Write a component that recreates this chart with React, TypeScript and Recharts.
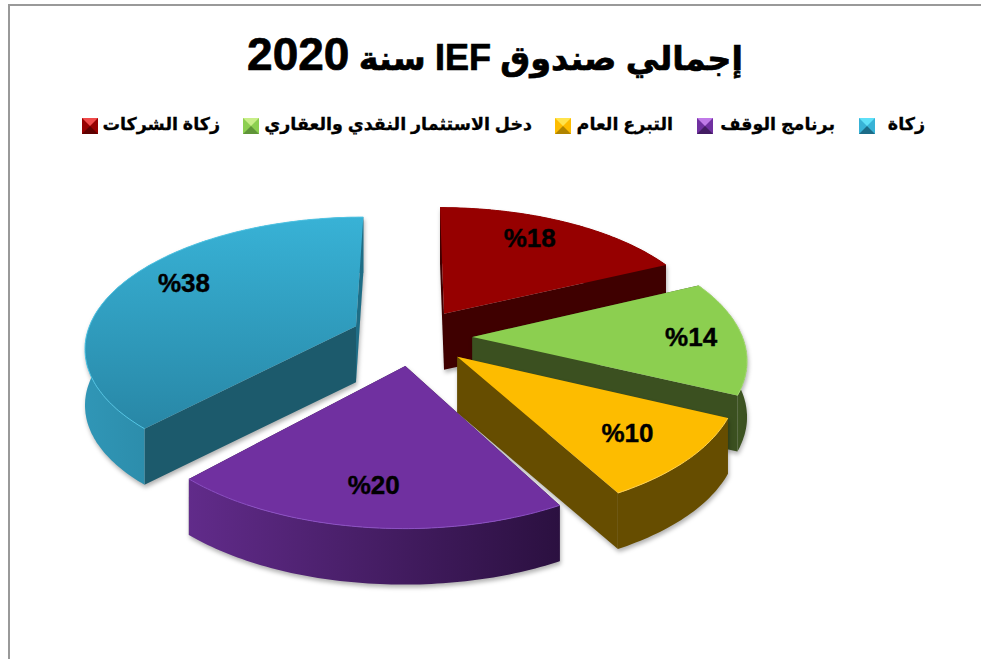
import { PieChart, Pie, Legend } from "recharts";

// ترتيب الرسم: من الخلف إلى الأمام، وهو أيضا ترتيب المفتاح من اليسار إلى اليمين
const names = ["زكاة الشركات", "دخل الاستثمار النقدي والعقاري", "التبرع العام", "برنامج الوقف", "زكاة"];
const values = [18, 14, 10, 20, 38];
const explosion = [0.22, 0.22, 0.22, 0.22, 0.23];

const topFrom = ["#960000", "#8ccf50", "#fdbc00", "#7030a0", "#38b2d6"];
const topTo = ["#960000", "#8ccf50", "#fdbc00", "#7030a0", "#2887a6"];
const wallFrom = ["#3f0000", "#4d6b2c", "#664d00", "#612b8a", "#3096b6"];
const wallTo = ["#3f0000", "#3b5020", "#664d00", "#2b1040", "#1e6d86"];
const cutFill = ["#3f0000", "#3b5020", "#664d00", "#2b1040", "#1c5a6c"];
const rimLine = ["#960000", "#a4dc70", "#ffd050", "#8c50c4", "#4fc4e4"];
const iconLight = ["#f04a4a", "#c8ee88", "#ffe34d", "#c07ae8", "#5fe0f8"];
const iconDark = ["#5e0000", "#5f9438", "#b08400", "#431c63", "#1c6c88"];
const legendLeft = [82, 243, 555, 697, 859];
const legendRight = [220, 532, 673, 835, 925];
const labelRadius = [0.78, 0.81, 0.76, 0.77, 0.78];
const labelTurn = [4, 0, 0, 0, -6];

const WIDTH = 981;
const HEIGHT = 659;
const TILT = 0.476;
const PERSPECTIVE = 0.15;
const DEPTH = 56;
const FONT = '"Liberation Sans", Arial, "DejaVu Sans", sans-serif';

const data = names.map((name, i) => ({ name, value: values[i], fill: topFrom[i], idx: i }));
const rad = (a: number) => (a * Math.PI) / 180;

// يحول نقطة على القرص إلى نقطة على الشاشة بمنظور بسيط
function project(cx: number, cy: number, R: number, mid: number, e: number, angle: number, r: number) {
  const u = e * Math.cos(rad(mid)) + r * Math.cos(rad(angle));
  const v = e * Math.sin(rad(mid)) + r * Math.sin(rad(angle));
  const w = 1 + PERSPECTIVE * v;
  return { x: cx + (R * u) / w, y: cy - (R * TILT * v) / w };
}

const toLine = (pts: { x: number; y: number }[]) =>
  "M" + pts.map((p) => `${p.x.toFixed(1)},${p.y.toFixed(1)}`).join("L");
const toPath = (pts: { x: number; y: number }[]) => toLine(pts) + "Z";
const drop = (p: { x: number; y: number }) => ({ x: p.x, y: p.y + DEPTH });

function Slice3D(props: any) {
  const { cx, cy, outerRadius, startAngle, endAngle, payload } = props;
  const mid = (startAngle + endAngle) / 2;
  const i = payload.idx;
  const e = explosion[i];
  const steps = Math.max(2, Math.ceil(Math.abs(endAngle - startAngle)));
  const rim = [];
  for (let s = 0; s <= steps; s++) {
    rim.push(project(cx, cy, outerRadius, mid, e, startAngle + ((endAngle - startAngle) * s) / steps, 1));
  }
  const apex = project(cx, cy, outerRadius, mid, e, 0, 0);
  const first = rim[0];
  const last = rim[rim.length - 1];
  return (
    <g style={{ filter: "drop-shadow(1px 3px 2px rgba(0,0,0,0.3))" }}>
      <path d={toPath([apex, first, drop(first), drop(apex)])} fill={cutFill[i]} />
      <path d={toPath([apex, last, drop(last), drop(apex)])} fill={wallTo[i]} />
      <path d={toPath([...rim, ...rim.slice().reverse().map(drop)])} fill={`url(#wall${i})`} />
      <path d={toPath([apex, ...rim])} fill={`url(#top${i})`} />
      <path d={toLine(rim)} fill="none" stroke={rimLine[i]} strokeWidth={1} />
    </g>
  );
}

function PercentLabel(props: any) {
  const { cx, cy, outerRadius, midAngle, value, payload } = props;
  const i = payload.idx;
  const p = project(cx, cy, outerRadius, midAngle, explosion[i], midAngle + labelTurn[i], labelRadius[i]);
  return (
    <text x={p.x} y={p.y} textAnchor="middle" dominantBaseline="central" direction="ltr"
      fontFamily={FONT} fontSize={26} fontWeight={700} fill="#000" stroke="#000" strokeWidth={0.4}>
      {`%${value}`}
    </text>
  );
}

function LegendIcon({ i }: { i: number }) {
  return (
    <svg width={16} height={16} style={{ display: "block" }}>
      <rect width={16} height={16} fill={topFrom[i]} />
      <polygon points="0,0 16,0 8,8" fill={iconLight[i]} />
      <polygon points="0,16 16,16 8,8" fill={iconDark[i]} />
    </svg>
  );
}

function ChartLegend() {
  return (
    <div style={{ position: "relative", width: WIDTH, height: 30 }}>
      {names.map((name, i) => (
        <div key={name}>
          <div style={{ position: "absolute", left: legendLeft[i], top: 7 }}>
            <LegendIcon i={i} />
          </div>
          <div
            style={{
              position: "absolute",
              right: WIDTH - legendRight[i],
              top: 0,
              direction: "rtl",
              whiteSpace: "nowrap",
              fontFamily: FONT,
              fontWeight: 700,
              fontSize: 17.5,
              lineHeight: "26px",
              color: "#000",
              WebkitTextStroke: "0.3px #000",
            }}
          >
            {name}
          </div>
        </div>
      ))}
    </div>
  );
}

export default function App() {
  return (
    <div style={{ position: "absolute", left: 0, top: 0, width: WIDTH, height: HEIGHT, overflow: "hidden", background: "#fff" }}>
      {/* إطار الرسم */}
      <div
        style={{
          position: "absolute",
          left: 8,
          top: 4,
          width: WIDTH,
          height: HEIGHT,
          borderTop: "2px solid #999",
          borderLeft: "2px solid #999",
        }}
      />
      <div
        style={{
          position: "absolute",
          left: 0,
          width: 990,
          top: 26,
          textAlign: "center",
          direction: "rtl",
          whiteSpace: "nowrap",
          fontFamily: FONT,
          fontWeight: 700,
          fontSize: 33.5,
          lineHeight: "56px",
          color: "#000",
          WebkitTextStroke: "0.7px #000",
        }}
      >
        إجمالي صندوق <span style={{ fontSize: 36 }}>IEF</span> سنة <span style={{ fontSize: 46 }}>2020</span>
      </div>
      <PieChart width={WIDTH} height={HEIGHT} style={{ position: "absolute", left: 0, top: 0 }}>
        <defs>
          {names.map((_, i) => (
            <linearGradient key={`top${i}`} id={`top${i}`} x1="0" y1="0" x2="0" y2="1">
              <stop offset="0%" stopColor={topFrom[i]} />
              <stop offset="100%" stopColor={topTo[i]} />
            </linearGradient>
          ))}
          {names.map((_, i) => (
            <linearGradient key={`wall${i}`} id={`wall${i}`} x1="0" y1="0" x2="1" y2="0">
              <stop offset="0%" stopColor={wallFrom[i]} />
              <stop offset="100%" stopColor={wallTo[i]} />
            </linearGradient>
          ))}
        </defs>
        <Legend
          content={<ChartLegend />}
          layout="horizontal"
          verticalAlign="top"
          wrapperStyle={{ left: 0, top: 111, width: WIDTH }}
        />
        <Pie
          data={data}
          dataKey="value"
          nameKey="name"
          cx={408}
          cy={302}
          innerRadius={0}
          outerRadius={270}
          startAngle={90}
          endAngle={-270}
          stroke="none"
          shape={Slice3D}
          label={PercentLabel}
          labelLine={false}
          isAnimationActive={false}
        />
      </PieChart>
    </div>
  );
}
